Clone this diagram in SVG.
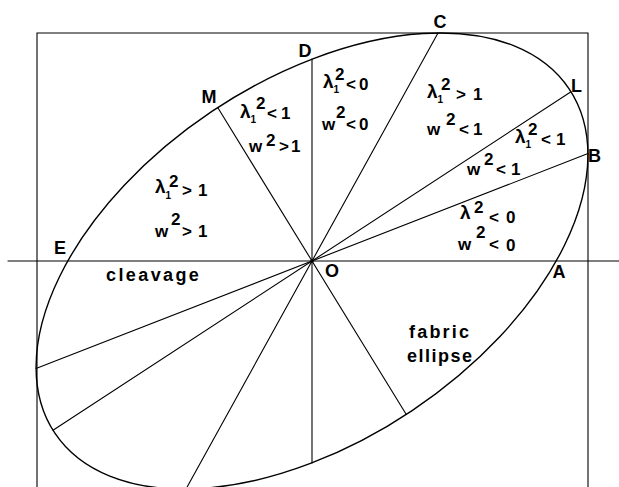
<svg xmlns="http://www.w3.org/2000/svg" width="619" height="487" viewBox="0 0 619 487">
<style>
  .ln { stroke: #000; stroke-width: 1.1; fill: none; stroke-linecap: round; }
  .el { stroke: #000; stroke-width: 1.4; fill: none; }
  .pt { font-family: "Liberation Sans", Arial, sans-serif; font-weight: bold; font-size: 18px; fill: #000; }
  .m { font-family: "Liberation Sans", Arial, sans-serif; font-weight: bold; font-size: 17px; fill: #000; }
  .g { font-size: 19px; }
  .s { font-size: 10px; }
  .w { font-family: "Liberation Sans", Arial, sans-serif; font-weight: bold; font-size: 18px; fill: #000; }
</style>
<rect width="619" height="487" fill="#fff"/>

<g id="frame">
  <path class="ln" d="M37 487 V33 H588 V487"/>
  <path class="ln" d="M8 261 H619"/>
</g>

<g id="fabric-ellipse">
  <ellipse class="el" cx="312" cy="261" rx="309.4" ry="180" transform="rotate(-33.8 312 261)"/>
</g>

<g id="connectors">
  <line class="ln" x1="588" y1="153.6" x2="36" y2="368.4"/>
  <line class="ln" x1="571" y1="91.7" x2="53" y2="430.3"/>
  <line class="ln" x1="438" y1="33" x2="186" y2="489"/>
  <line class="ln" x1="312" y1="59.1" x2="312" y2="462.9"/>
  <line class="ln" x1="217.7" y1="107.5" x2="406.3" y2="414.5"/>
  <circle cx="312" cy="261" r="1.8" fill="#000"/>
</g>

<g id="point-labels">
  <text class="pt" x="440" y="28" text-anchor="middle">C</text>
  <text class="pt" x="305" y="57" text-anchor="middle">D</text>
  <text class="pt" x="209" y="103" text-anchor="middle">M</text>
  <text class="pt" x="571" y="92">L</text>
  <text class="pt" x="588" y="162">B</text>
  <text class="pt" x="54" y="254">E</text>
  <text class="pt" x="332" y="277" text-anchor="middle">O</text>
  <text class="pt" x="559" y="278" text-anchor="middle">A</text>
</g>

<g id="label-MD">
  <text class="m"><tspan class="g" x="240" y="118">λ</tspan><tspan class="s" x="250.5" y="123">1</tspan><tspan x="256" y="109">2</tspan><tspan x="267" y="119">&lt;</tspan><tspan x="281" y="119">1</tspan></text>
  <text class="m"><tspan x="249" y="152">w</tspan><tspan x="266" y="146">2</tspan><tspan x="279" y="152">&gt;</tspan><tspan x="291" y="152">1</tspan></text>
</g>

<g id="label-EM">
  <text class="m"><tspan class="g" x="155" y="193">λ</tspan><tspan class="s" x="165.5" y="199">1</tspan><tspan x="169" y="187">2</tspan><tspan x="182" y="196">&gt;</tspan><tspan x="198" y="196">1</tspan></text>
  <text class="m"><tspan x="155" y="237">w</tspan><tspan x="171" y="225">2</tspan><tspan x="182" y="237">&gt;</tspan><tspan x="198" y="237">1</tspan></text>
</g>

<g id="label-DC">
  <text class="m"><tspan class="g" x="323" y="88">λ</tspan><tspan class="s" x="333.5" y="93">1</tspan><tspan x="335" y="80">2</tspan><tspan x="346" y="90">&lt;</tspan><tspan x="359" y="90">0</tspan></text>
  <text class="m"><tspan x="322" y="130">w</tspan><tspan x="336" y="118">2</tspan><tspan x="346" y="130">&lt;</tspan><tspan x="359" y="130">0</tspan></text>
</g>

<g id="label-CL">
  <text class="m"><tspan class="g" x="427" y="98">λ</tspan><tspan class="s" x="437.5" y="103">1</tspan><tspan x="441" y="90">2</tspan><tspan x="456" y="100">&gt;</tspan><tspan x="473" y="100">1</tspan></text>
  <text class="m"><tspan x="427" y="135">w</tspan><tspan x="446" y="125">2</tspan><tspan x="459" y="135">&lt;</tspan><tspan x="473" y="135">1</tspan></text>
</g>

<g id="label-LB">
  <text class="m"><tspan class="g" x="515" y="143">λ</tspan><tspan class="s" x="525.5" y="148">1</tspan><tspan x="528" y="135">2</tspan><tspan x="541" y="145">&lt;</tspan><tspan x="556" y="145">1</tspan></text>
  <text class="m"><tspan x="467" y="175">w</tspan><tspan x="484" y="165">2</tspan><tspan x="496" y="175">&lt;</tspan><tspan x="511" y="175">1</tspan></text>
</g>

<g id="label-BA">
  <text class="m"><tspan class="g" x="460" y="219">λ</tspan><tspan x="474" y="213">2</tspan><tspan x="489" y="223">&lt;</tspan><tspan x="506" y="223">0</tspan></text>
  <text class="m"><tspan x="458" y="250">w</tspan><tspan x="476" y="238">2</tspan><tspan x="489" y="250">&lt;</tspan><tspan x="506" y="251">0</tspan></text>
</g>

<g id="words">
  <text class="w" x="106" y="281" letter-spacing="2.4">cleavage</text>
  <text class="w" x="409" y="338" letter-spacing="2.2">fabric</text>
  <text class="w" x="407" y="362" letter-spacing="1.5">ellipse</text>
</g>
</svg>
